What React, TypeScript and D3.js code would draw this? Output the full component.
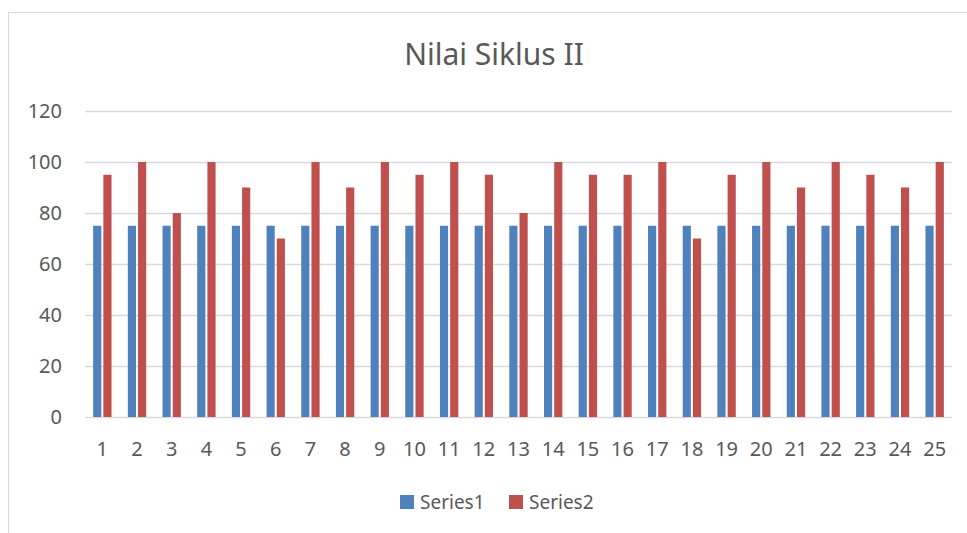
import React, { useEffect, useRef } from 'react';
import * as d3 from 'd3';

const categories = Array.from({ length: 25 }, (_, i) => String(i + 1));
const series1 = [75, 75, 75, 75, 75, 75, 75, 75, 75, 75, 75, 75, 75, 75, 75, 75, 75, 75, 75, 75, 75, 75, 75, 75, 75];
const series2 = [95, 100, 80, 100, 90, 70, 100, 90, 100, 95, 100, 95, 80, 100, 95, 95, 100, 70, 95, 100, 90, 100, 95, 90, 100];
const seriesNames = ['Series1', 'Series2'];
const yTicks = [0, 20, 40, 60, 80, 100, 120];

const colors = ['#4f81bd', '#c0504d'];
const textColor = '#595959';
const font = '"Noto Sans", "Open Sans", sans-serif';

export default function App() {
  const ref = useRef<SVGSVGElement>(null);

  useEffect(() => {
    const svg = d3.select(ref.current);
    svg.selectAll('*').remove();

    const W = 967;
    const H = 533;
    const plot = { left: 85, right: 952, top: 111, bottom: 417 };

    // chart frame
    svg
      .append('rect')
      .attr('x', 8.5)
      .attr('y', 12.5)
      .attr('width', W)
      .attr('height', H)
      .attr('fill', '#fff')
      .attr('stroke', '#d9d9d9');

    svg
      .append('text')
      .attr('x', 494)
      .attr('y', 65)
      .attr('text-anchor', 'middle')
      .attr('fill', textColor)
      .style('font-family', font)
      .style('font-size', '30px')
      .text('Nilai Siklus II');

    const x0 = d3
      .scaleBand()
      .domain(categories)
      .range([plot.left, plot.right])
      .paddingInner(0.47)
      .paddingOuter(0.235);

    const x1 = d3
      .scaleBand()
      .domain(seriesNames)
      .range([0, x0.bandwidth()])
      .paddingInner(0.2);

    const y = d3.scaleLinear().domain([0, 120]).range([plot.bottom, plot.top]);

    // gridlines
    svg
      .append('g')
      .selectAll('line')
      .data(yTicks)
      .enter()
      .append('line')
      .attr('x1', plot.left)
      .attr('x2', plot.right)
      .attr('y1', (d) => Math.round(y(d)) + 0.5)
      .attr('y2', (d) => Math.round(y(d)) + 0.5)
      .attr('stroke', '#d9d9d9')
      .attr('stroke-width', 1.5);

    svg
      .append('g')
      .selectAll('text')
      .data(yTicks)
      .enter()
      .append('text')
      .attr('x', 62)
      .attr('y', (d) => y(d))
      .attr('dy', '0.35em')
      .attr('text-anchor', 'end')
      .attr('fill', textColor)
      .style('font-family', font)
      .style('font-size', '20px')
      .text((d) => d);

    const data = [series1, series2];
    const groups = svg
      .append('g')
      .selectAll('g')
      .data(categories)
      .enter()
      .append('g')
      .attr('transform', (d) => `translate(${x0(d)},0)`);

    groups
      .selectAll('rect')
      .data((_, i) => seriesNames.map((name, s) => ({ name, value: data[s][i], s })))
      .enter()
      .append('rect')
      .attr('x', (d) => x1(d.name))
      .attr('width', x1.bandwidth())
      .attr('y', (d) => y(d.value))
      .attr('height', (d) => plot.bottom - y(d.value))
      .attr('fill', (d) => colors[d.s]);

    // x labels
    svg
      .append('g')
      .selectAll('text')
      .data(categories)
      .enter()
      .append('text')
      .attr('x', (d) => x0(d) + x0.bandwidth() / 2)
      .attr('y', 456)
      .attr('text-anchor', 'middle')
      .attr('fill', textColor)
      .style('font-family', font)
      .style('font-size', '20px')
      .text((d) => d);

    // legend
    const legendX = [400, 509];
    const legend = svg
      .append('g')
      .selectAll('g')
      .data(seriesNames)
      .enter()
      .append('g')
      .attr('transform', (_, i) => `translate(${legendX[i]},495)`);

    legend
      .append('rect')
      .attr('width', 14)
      .attr('height', 14)
      .attr('fill', (_, i) => colors[i]);

    legend
      .append('text')
      .attr('x', 20)
      .attr('y', 14)
      .attr('fill', textColor)
      .style('font-family', font)
      .style('font-size', '19px')
      .text((d) => d);
  }, []);

  return (
    <svg
      ref={ref}
      width={967}
      height={533}
      style={{ position: 'absolute', left: 0, top: 0, display: 'block' }}
    />
  );
}
